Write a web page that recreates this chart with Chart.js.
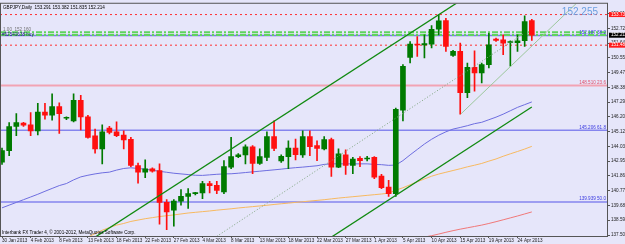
<!DOCTYPE html>
<html>
<head>
<meta charset="utf-8">
<script src="https://cdn.jsdelivr.net/npm/chart.js@4.4.1/dist/chart.umd.min.js"></script>
<style>
  html, body { margin: 0; padding: 0; background: #e6e6fa; }
  canvas { display: block; }
</style>
</head>
<body>
<canvas id="chart" width="625" height="244"></canvas>
<script>
// GBPJPY daily bars, 30 Jan 2013 .. 26 Apr 2013 (Sunday bars included)
const openP  = [142.86,143.71,145.49,145.74,145.61,145.17,146.56,146.32,146.95,146.10,
                145.90,147.42,146.20,144.81,143.84,145.37,145.10,144.86,144.54,142.62,
                142.13,142.38,142.25,139.90,139.33,140.00,140.35,140.55,140.60,141.28,
                141.16,140.67,142.50,143.27,143.40,144.00,142.78,143.22,144.74,142.95,
                143.27,143.91,143.40,144.74,144.08,143.84,144.52,142.49,143.40,142.62,
                143.15,143.10,143.22,141.84,141.03,140.55,146.69,150.58,151.56,151.50,
                151.56,152.65,153.29,150.73,151.02,147.98,149.85,149.44,150.05,151.92,
                151.88,151.68,151.66,151.81,153.291];
const highP  = [143.90,145.78,146.44,145.80,146.51,147.20,147.20,147.90,147.24,146.20,
                147.90,147.79,146.32,145.30,145.61,145.50,145.83,145.18,144.69,142.79,
                143.03,142.45,142.74,140.10,140.10,140.84,140.91,140.65,141.45,141.45,
                141.45,142.98,144.69,143.50,144.15,144.08,143.84,145.10,145.91,143.40,
                144.44,144.57,145.18,145.18,144.44,144.74,144.64,143.84,143.77,143.22,
                143.27,143.30,143.27,141.96,141.52,146.85,150.05,151.75,152.12,152.24,
                152.92,153.71,153.46,151.10,151.63,150.17,151.07,150.17,152.36,152.00,
                152.24,151.80,152.24,153.65,153.382];
const lowP   = [142.70,143.35,144.81,145.50,144.81,144.88,146.03,145.96,144.98,146.00,
                145.83,145.23,144.64,143.52,142.74,144.95,144.74,143.84,142.54,141.32,
                141.72,142.13,138.30,137.90,138.15,139.70,139.45,140.45,140.18,140.60,
                140.55,140.55,142.38,143.20,142.74,142.01,142.69,142.98,143.71,142.85,
                142.38,143.03,143.22,143.35,142.98,143.77,141.81,142.45,141.96,142.01,
                142.54,142.95,141.64,140.91,140.35,140.35,145.91,150.17,150.66,150.55,
                151.27,152.24,151.02,150.65,146.40,147.61,148.10,148.70,149.80,151.75,
                150.78,149.93,151.02,151.39,151.835];
const closeP = [143.71,145.49,145.78,145.59,145.17,146.56,146.32,146.95,146.44,146.15,
                147.42,146.20,144.69,143.84,145.10,145.05,144.81,144.50,142.62,142.13,
                142.38,142.20,139.90,139.20,140.00,140.35,140.55,140.60,141.28,141.13,
                140.79,142.54,143.27,143.40,144.00,142.78,143.27,144.74,143.88,143.30,
                143.91,143.42,144.74,144.01,143.88,144.52,142.49,143.47,142.62,143.10,
                142.98,143.12,141.76,140.99,140.55,146.76,149.93,151.56,151.49,151.60,
                152.65,153.27,151.39,151.02,147.98,149.85,149.44,150.05,151.51,151.83,
                151.63,151.70,151.80,153.22,152.214];

// moving averages
const maBlue = [139.50,139.70,139.90,140.10,140.30,140.50,140.72,140.93,141.14,141.29,
                141.56,141.78,141.90,142.00,142.08,142.13,142.28,142.40,142.45,142.40,
                142.35,142.27,142.19,142.12,142.05,142.00,141.95,141.90,141.89,141.93,
                141.97,142.00,142.01,142.05,142.10,142.15,142.20,142.25,142.30,142.35,
                142.41,142.46,142.50,142.55,142.60,142.70,142.74,142.74,142.74,142.74,
                142.74,142.74,142.70,142.68,142.63,142.65,142.98,143.40,143.80,144.20,
                144.55,144.85,145.10,145.30,145.42,145.55,145.70,145.80,145.99,146.18,
                146.40,146.65,146.90,147.10,147.30];
const maOrange = [null,null,null,null,null,null,null,null,null,null,
                136.85,137.10,137.35,137.60,137.85,138.05,138.23,138.35,138.50,138.60,
                138.70,138.78,138.86,138.92,138.98,139.05,139.12,139.17,139.22,139.27,
                139.33,139.38,139.43,139.49,139.54,139.59,139.64,139.69,139.75,139.80,
                139.85,139.90,139.95,140.00,140.05,140.10,140.16,140.22,140.27,140.32,
                140.37,140.42,140.47,140.52,140.58,140.80,140.98,141.20,141.42,141.63,
                141.83,141.99,142.12,142.25,142.38,142.52,142.64,142.77,142.94,143.10,
                143.30,143.48,143.65,143.83,144.03];
const maRed = [null,null,null,null,null,null,null,null,null,null,
               null,null,null,null,null,null,null,null,null,null,
               null,null,null,null,null,null,null,null,null,null,
               null,null,null,null,null,null,null,null,null,null,
               null,null,null,null,null,null,null,null,null,null,
               null,null,null,null,null,null,null,null,137.25,137.35,
               137.45,137.57,137.70,137.82,137.93,138.03,138.13,138.23,138.35,138.48,
               138.62,138.76,138.90,139.05,139.20];

// trend lines: [bar index, price] end points
const channelUpper = [[12, 137.00], [64, 154.75]];
const channelLower = [[45, 137.00], [74, 146.93]];
const fiboTrend    = [[30, 137.40], [73, 152.38]];
const lowTrend     = [[64.06, 146.40], [81, 154.95]];

// horizontal levels
const fibLevels = [
  { value: 148.510, text: '148.510 23.6', color: '#f2a3b3', textColor: '#e0506a', width: 2 },
  { value: 145.206, text: '145.206 61.8', color: '#8585ee', textColor: '#3a3ae0', width: 1.5 },
  { value: 139.939, text: '139.939 50.0', color: '#8585ee', textColor: '#3a3ae0', width: 1.5 },
  { value: 152.187, text: '152.187 38.2', color: '#7a7ae8', textColor: '#3a3ae0', width: 1.5 }
];
const orderLevels = [152.43, 152.23];
const stopLevels = [153.735, 151.480];

// axes
const dateTicks  = [0,4,8,12,16,20,24,28,32,36,40,44,48,52,56,60,64,68,72];
const dateLabels = ['30 Jan 2013','4 Feb 2013','8 Feb 2013','13 Feb 2013','18 Feb 2013',
                    '22 Feb 2013','27 Feb 2013','4 Mar 2013','8 Mar 2013','13 Mar 2013',
                    '18 Mar 2013','22 Mar 2013','27 Mar 2013','1 Apr 2013','5 Apr 2013',
                    '10 Apr 2013','15 Apr 2013','19 Apr 2013','24 Apr 2013'];
const priceTicks = [137.500,138.590,139.680,140.770,141.860,142.950,144.030,145.120,
                    146.200,147.290,148.380,149.470,150.550,151.640,152.720,153.810];
const xMin = -0.28, xMax = 84.64;
const yMin = 137.427, yMax = 154.53;

const bull = '#007a00', bear = '#ff1010', flat = '#808080';
const barColor = openP.map((o, i) => closeP[i] > o ? bull : (closeP[i] < o ? bear : flat));
const last = openP.length - 1;

const lineSet = (pts, color, width, dash, order) => ({
  type: 'line',
  data: pts.map(p => ({ x: p[0], y: p[1] })),
  borderColor: color,
  borderWidth: width,
  borderDash: dash || [],
  pointRadius: 0,
  order: order
});
const maSet = (vals, color) => ({
  type: 'line',
  data: vals.map((v, i) => ({ x: i, y: v })),
  borderColor: color,
  borderWidth: 1,
  pointRadius: 0,
  tension: 0,
  order: 4
});

const datasets = [];
fibLevels.forEach(l => datasets.push(lineSet([[xMin, l.value], [xMax, l.value]], l.color, l.width, null, 6)));
orderLevels.forEach(v => datasets.push(lineSet([[xMin, v], [xMax, v]], '#5fd35f', 2, [6, 2, 2, 2], 5)));
stopLevels.forEach(v => datasets.push(lineSet([[xMin, v], [xMax, v]], '#ff3030', 1, [2, 3], 5)));
datasets.push(maSet(maBlue, '#6e6ee0'));
datasets.push(maSet(maOrange, '#f7b960'));
datasets.push(maSet(maRed, '#f07878'));
datasets.push({
  type: 'bar',
  data: openP.map((o, i) => ({ x: i, y: [lowP[i], highP[i]] })),
  backgroundColor: barColor,
  barThickness: 1,
  grouped: false,
  order: 3
});
datasets.push({
  type: 'bar',
  data: openP.map((o, i) => ({ x: i, y: [o, closeP[i]] })),
  backgroundColor: barColor,
  barThickness: 5,
  minBarLength: 1,
  grouped: false,
  order: 2
});
datasets.push(lineSet(channelUpper, '#118a11', 1.3, null, 1));
datasets.push(lineSet(channelLower, '#118a11', 1.3, null, 1));
datasets.push(lineSet(fiboTrend, '#7da37d', 1, [1, 2], 1));
datasets.push(lineSet(lowTrend, '#9cc79c', 1, null, 1));

const overlay = {
  id: 'overlay',
  beforeDraw(chart) {
    const { ctx, width, height } = chart;
    ctx.save();
    ctx.fillStyle = '#e6e6fa';
    ctx.fillRect(0, 0, width, height);
    ctx.restore();
  },
  afterDraw(chart) {
    const { ctx, chartArea: a } = chart;
    const y = chart.scales.y;
    ctx.save();
    ctx.strokeStyle = '#555';
    ctx.lineWidth = 1;
    ctx.strokeRect(a.left + 0.5, a.top - 0.5, a.right - a.left - 1, a.bottom - a.top + 1);

    ctx.font = '4.6px "Liberation Sans"';
    ctx.textBaseline = 'bottom';
    ctx.textAlign = 'right';
    fibLevels.forEach(l => {
      ctx.fillStyle = l.textColor;
      ctx.fillText(l.text, a.right - 2, y.getPixelForValue(l.value) - 0.5);
    });

    ctx.textAlign = 'left';
    ctx.textBaseline = 'middle';
    ctx.fillStyle = '#000';
    ctx.fillText('GBPJPY,Daily  ' + [openP[last], highP[last], lowP[last], closeP[last]].map(v => v.toFixed(3)).join(' '), a.left + 3, a.top + 4);
    ctx.fillText('Interbank FX Trader 4, \u00a9 2001-2012, MetaQuotes Software Corp.', a.left + 2, a.bottom - 3);
    ctx.fillStyle = '#707070';
    ctx.fillText('1.00  152.160', a.left + 3, y.getPixelForValue(152.6));
    ctx.fillStyle = '#20207a';
    ctx.fillText('#52541638 buy', a.left + 2, y.getPixelForValue(152.23));

    ctx.font = '10px "Liberation Sans"';
    ctx.fillStyle = '#6b9fe0';
    ctx.textAlign = 'right';
    ctx.fillText('152.255', a.right - 10, y.getPixelForValue(153.9));

    ctx.font = '4.6px "Liberation Sans"';
    ctx.textAlign = 'left';
    [[stopLevels[0], '#ff1a1a'], [closeP[last], '#000'], [stopLevels[1], '#ff1a1a']].forEach(([v, c]) => {
      const py = y.getPixelForValue(v);
      ctx.fillStyle = c;
      ctx.fillRect(a.right + 1, py - 2.5, 17, 5);
      ctx.fillStyle = '#fff';
      ctx.fillText(v.toFixed(3), a.right + 3, py);
    });
    ctx.restore();
  }
};

new Chart(document.getElementById('chart'), {
  type: 'bar',
  data: { datasets },
  options: {
    responsive: false,
    animation: false,
    layout: { padding: { top: 2, left: 0, right: 0, bottom: 0 } },
    plugins: { legend: { display: false }, tooltip: { enabled: false } },
    scales: {
      x: {
        type: 'linear',
        min: xMin,
        max: xMax,
        offset: false,
        afterBuildTicks: s => { s.ticks = dateTicks.map(v => ({ value: v })); },
        afterFit: s => { s.height = 8; },
        ticks: {
          autoSkip: false,
          maxRotation: 0,
          align: 'start',
          padding: 0,
          color: '#222',
          font: { size: 4.6, family: 'Liberation Sans' },
          callback: (v, i) => dateLabels[i]
        },
        grid: { offset: false, drawOnChartArea: false, tickLength: 2, color: '#555' },
        border: { display: false }
      },
      y: {
        position: 'right',
        min: yMin,
        max: yMax,
        afterBuildTicks: s => { s.ticks = priceTicks.map(v => ({ value: v })); },
        afterFit: s => { s.width = 17; },
        ticks: {
          autoSkip: false,
          padding: 1,
          color: '#222',
          font: { size: 4.6, family: 'Liberation Sans' },
          callback: v => v.toFixed(3)
        },
        grid: { drawOnChartArea: false, tickLength: 2, color: '#555' },
        border: { display: false }
      }
    }
  },
  plugins: [overlay]
});
</script>
</body>
</html>
